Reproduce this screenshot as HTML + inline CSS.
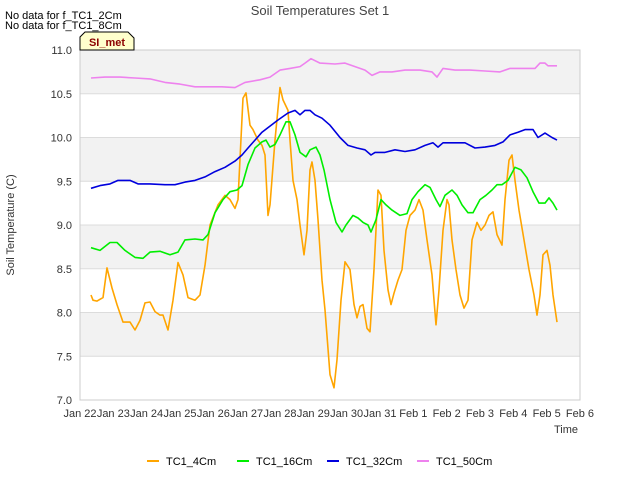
<!DOCTYPE html>
<html><head><meta charset="utf-8"><style>
body{margin:0;background:#fff;font-family:"Liberation Sans",sans-serif}
svg text{font-family:"Liberation Sans",sans-serif}
</style></head><body>
<svg id="chart" width="640" height="480" xmlns="http://www.w3.org/2000/svg">
<text x="320" y="15" text-anchor="middle" font-size="13" fill="#444">Soil Temperatures Set 1</text>
<text x="5" y="19" font-size="11" fill="#000">No data for f_TC1_2Cm</text>
<text x="5" y="29" font-size="11" fill="#000">No data for f_TC1_8Cm</text>
<g id="bands"></g>
<g id="grid"></g>
<rect x="80" y="50" width="500" height="350" fill="none" stroke="#ccc"/>
<g id="yticks"></g>
<g id="xticks"></g>
<g id="series"></g>
<path d="M80,50 L80,37 L85,32 L128,32 L134,38 L134,50 Z" fill="#ffffcc" stroke="#000" stroke-width="1"/>
<text x="107" y="46" text-anchor="middle" font-size="11" font-weight="bold" fill="#8b0000">SI_met</text>
<text x="14" y="225" transform="rotate(-90 14 225)" text-anchor="middle" font-size="11" fill="#333">Soil Temperature (C)</text>
<text x="566" y="433" text-anchor="middle" font-size="11" fill="#333">Time</text>
<g id="legend"></g>
</svg>
<script>
const xTickLabels=["Jan 22","Jan 23","Jan 24","Jan 25","Jan 26","Jan 27","Jan 28","Jan 29","Jan 30","Jan 31","Feb 1","Feb 2","Feb 3","Feb 4","Feb 5","Feb 6"];
const yTicks=[7.0,7.5,8.0,8.5,9.0,9.5,10.0,10.5,11.0];
const seriesNames=["TC1_4Cm","TC1_16Cm","TC1_32Cm","TC1_50Cm"];
const seriesColors=["orange","#00ee00","#0000dd","violet"];
const days4=[.33,.39,.51,.69,.81,.96,1.11,1.29,1.5,1.65,1.8,1.95,2.1,2.25,2.4,2.49,2.64,2.79,2.94,3.09,3.24,3.45,3.6,3.75,3.9,4.14,4.35,4.5,4.65,4.74,4.89,4.98,5.1,5.19,5.34,5.46,5.55,5.64,5.7,5.85,6.0,6.09,6.24,6.3,6.39,6.51,6.6,6.72,6.81,6.9,6.96,7.05,7.14,7.26,7.35,7.5,7.62,7.71,7.83,7.95,8.1,8.22,8.31,8.4,8.49,8.61,8.7,8.82,8.94,9.03,9.12,9.24,9.33,9.42,9.54,9.66,9.78,9.9,10.05,10.17,10.29,10.41,10.56,10.68,10.77,10.89,11.01,11.07,11.16,11.28,11.4,11.52,11.64,11.76,11.91,12.03,12.15,12.27,12.39,12.51,12.66,12.75,12.87,12.96,13.05,13.17,13.32,13.47,13.62,13.71,13.8,13.89,14.01,14.1,14.19,14.31];
const vals4=[8.2,8.14,8.13,8.17,8.51,8.28,8.09,7.89,7.89,7.8,7.91,8.11,8.12,8.01,7.97,7.97,7.8,8.14,8.57,8.43,8.17,8.14,8.2,8.54,9.0,9.23,9.34,9.29,9.19,9.29,10.45,10.51,10.14,10.09,9.97,9.91,9.8,9.11,9.23,9.97,10.57,10.43,10.31,9.97,9.51,9.29,9.0,8.66,8.94,9.63,9.72,9.51,9.06,8.37,8.03,7.29,7.14,7.46,8.14,8.58,8.49,8.09,7.94,8.07,8.09,7.82,7.78,8.49,9.4,9.34,8.71,8.26,8.09,8.22,8.37,8.49,8.94,9.11,9.17,9.29,9.17,8.83,8.43,7.86,8.26,8.94,9.29,9.23,8.83,8.49,8.2,8.05,8.14,8.83,9.03,8.94,9.0,9.11,9.15,8.89,8.77,9.29,9.74,9.8,9.51,9.17,8.83,8.49,8.2,7.97,8.2,8.66,8.71,8.54,8.2,7.89];
const days16=[.33,.6,.9,1.11,1.35,1.65,1.89,2.1,2.4,2.7,2.94,3.15,3.45,3.69,3.84,4.05,4.29,4.5,4.71,4.86,5.04,5.25,5.46,5.58,5.7,5.85,6.0,6.18,6.3,6.45,6.6,6.78,6.9,7.08,7.2,7.32,7.5,7.68,7.86,7.98,8.19,8.34,8.49,8.64,8.73,8.88,9.03,9.18,9.36,9.6,9.81,9.96,10.14,10.35,10.5,10.68,10.8,10.95,11.16,11.31,11.46,11.64,11.79,12.0,12.18,12.36,12.51,12.66,12.84,13.05,13.23,13.41,13.59,13.77,13.95,14.07,14.19,14.31];
const vals16=[8.74,8.71,8.8,8.8,8.71,8.63,8.62,8.69,8.7,8.66,8.69,8.83,8.84,8.83,8.89,9.14,9.29,9.38,9.4,9.45,9.69,9.88,9.95,9.97,9.89,9.92,10.03,10.18,10.18,10.03,9.83,9.78,9.86,9.89,9.8,9.63,9.29,9.03,8.92,9.0,9.11,9.08,9.03,9.0,8.92,9.06,9.29,9.23,9.17,9.11,9.13,9.29,9.38,9.46,9.43,9.29,9.21,9.34,9.4,9.34,9.23,9.14,9.14,9.29,9.34,9.4,9.46,9.46,9.51,9.66,9.63,9.54,9.38,9.25,9.25,9.31,9.25,9.17];
const days32=[.33,.6,.9,1.14,1.5,1.74,2.1,2.55,2.85,3.15,3.45,3.75,4.05,4.35,4.65,4.86,5.04,5.25,5.46,5.7,5.94,6.24,6.45,6.6,6.75,6.9,7.05,7.26,7.5,7.8,8.04,8.31,8.55,8.73,8.85,9.15,9.45,9.75,10.05,10.35,10.59,10.74,10.89,11.25,11.55,11.85,12.15,12.45,12.69,12.9,13.14,13.35,13.59,13.74,13.95,14.16,14.31];
const vals32=[9.42,9.45,9.47,9.51,9.51,9.47,9.47,9.46,9.46,9.49,9.51,9.55,9.61,9.66,9.73,9.8,9.88,9.97,10.06,10.13,10.2,10.28,10.31,10.26,10.31,10.31,10.26,10.22,10.14,10.0,9.91,9.88,9.86,9.8,9.83,9.83,9.86,9.84,9.86,9.91,9.94,9.89,9.94,9.94,9.94,9.88,9.89,9.91,9.95,10.03,10.06,10.09,10.09,10.0,10.05,10.0,9.97];
const days50=[.33,.75,1.2,1.65,2.1,2.55,3.0,3.45,3.9,4.26,4.65,4.95,5.4,5.7,6.0,6.3,6.6,6.75,6.93,7.2,7.65,7.95,8.25,8.55,8.76,9.0,9.36,9.75,10.2,10.56,10.71,10.89,11.25,11.7,12.15,12.6,12.9,13.35,13.65,13.8,13.95,14.04,14.31];
const vals50=[10.68,10.69,10.69,10.68,10.67,10.63,10.61,10.58,10.58,10.58,10.57,10.63,10.66,10.69,10.77,10.79,10.81,10.85,10.9,10.85,10.84,10.85,10.81,10.77,10.71,10.75,10.75,10.77,10.77,10.75,10.69,10.79,10.77,10.77,10.76,10.75,10.79,10.79,10.79,10.85,10.85,10.82,10.82];

const NS="http://www.w3.org/2000/svg";
const X0=80,X1=580,Y0=400,Y1=50,DMAX=15,VMIN=7,VMAX=11;
function xs(d){return X0+(X1-X0)*d/DMAX;}
function ys(v){return Y0-(Y0-Y1)*(v-VMIN)/(VMAX-VMIN);}
function mk(tag,attrs,parent){const e=document.createElementNS(NS,tag);for(const k in attrs)e.setAttribute(k,attrs[k]);parent.appendChild(e);return e;}
const bands=document.getElementById('bands'),grid=document.getElementById('grid'),yt=document.getElementById('yticks'),xt=document.getElementById('xticks');
for(let i=0;i<yTicks.length-1;i++){
  if(i%2===1){const r=mk('rect',{x:X0,y:ys(yTicks[i+1]),width:X1-X0,height:ys(yTicks[i])-ys(yTicks[i+1]),fill:'#f2f2f2'},bands);
  
  }
}
yTicks.forEach(v=>{
  const l=mk('line',{x1:X0,x2:X1,y1:ys(v),y2:ys(v),stroke:'#dcdcdc'},grid);
  
  
  const t=mk('text',{x:X0-8,y:ys(v)+4,'text-anchor':'end','font-size':'11',fill:'#333'},yt);
  t.textContent=v.toFixed(1);
  
  
});
xTickLabels.forEach((s,i)=>{
  const t=mk('text',{x:xs(i),y:Y0+17,'text-anchor':'middle','font-size':'11',fill:'#333'},xt);
  t.textContent=s;
  
  
});
const allDays=[days4,days16,days32,days50],allVals=[vals4,vals16,vals32,vals50];
const sg=document.getElementById('series');
allDays.forEach((ds,k)=>{
  const vs=allVals[k];const n=Math.min(ds.length,vs.length);let d='';
  for(let i=0;i<n;i++)d+=(i?'L':'M')+xs(ds[i]).toFixed(1)+','+ys(vs[i]).toFixed(1);
  const p=mk('path',{d:d,fill:'none',stroke:seriesColors[k],'stroke-width':'1.6','stroke-linejoin':'round'},sg);
  
  
});
const lg=document.getElementById('legend');
seriesNames.forEach((s,k)=>{
  const x0=147+k*90;
  const g=mk('g',{},lg);
  
  
  mk('line',{x1:x0,x2:x0+12,y1:461,y2:461,stroke:seriesColors[k],'stroke-width':'2'},g);
  const t=mk('text',{x:x0+19,y:465,'font-size':'11',fill:'#000'},g);
  t.textContent=s;
});
</script>
</body></html>
